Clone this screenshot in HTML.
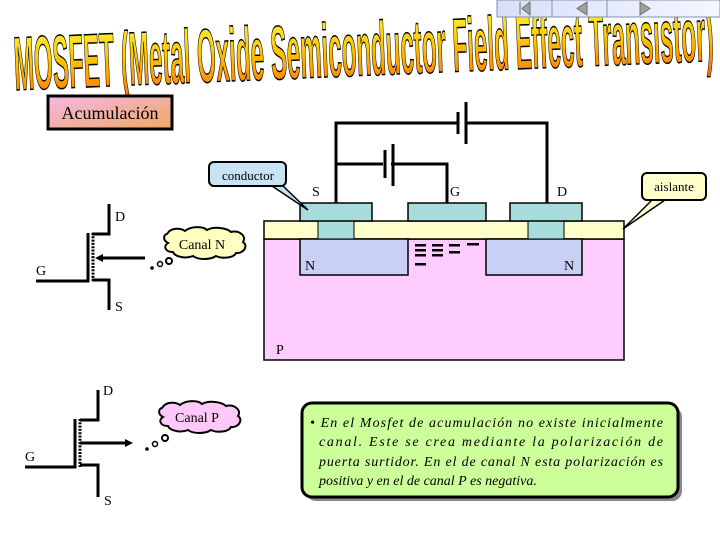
<!DOCTYPE html>
<html><head><meta charset="utf-8"><style>
html,body{margin:0;padding:0;background:#fff;}
svg{display:block;}
</style></head><body>
<svg width="720" height="540" viewBox="0 0 720 540" xmlns="http://www.w3.org/2000/svg" font-family="Liberation Serif, serif">
<defs>
<linearGradient id="tg" x1="0" y1="0" x2="0" y2="1"><stop offset="0" stop-color="#ffff40"/><stop offset="0.5" stop-color="#ffc000"/><stop offset="1" stop-color="#ff6a00"/></linearGradient>
<linearGradient id="ag" x1="0" y1="0" x2="1" y2="1"><stop offset="0" stop-color="#f4b8e8"/><stop offset="1" stop-color="#f0a860"/></linearGradient>
<linearGradient id="nb" x1="0" y1="0" x2="1" y2="0"><stop offset="0" stop-color="#d8e0f8"/><stop offset="1" stop-color="#f4f6ff"/></linearGradient>
</defs>
<!-- title -->
<g transform="rotate(-2.4 15 90)">
<text x="15" y="90" font-family="Liberation Sans Narrow, Liberation Sans, sans-serif" font-weight="bold" font-size="76" textLength="700" lengthAdjust="spacingAndGlyphs" fill="url(#tg)" stroke="#000" stroke-width="1.5">MOSFET (Metal Oxide Semiconductor Field Effect Transistor)</text>
</g>
<!-- nav -->
<rect x="497" y="0" width="223" height="17" fill="url(#nb)" stroke="#8090b0"/>
<line x1="552" y1="0" x2="552" y2="17" stroke="#8090b0"/><line x1="607" y1="0" x2="607" y2="17" stroke="#8090b0"/>
<path d="M520 2v13M530 2l-8 6.5 8 6.5z" fill="#a0a0a0" stroke="#707070"/>
<path d="M587 2l-10 6.5 10 6.5z" fill="#a0a0a0" stroke="#707070"/>
<path d="M640 2l10 6.5-10 6.5z" fill="#a0a0a0" stroke="#707070"/>
<!-- Acumulacion -->
<rect x="48" y="96" width="124" height="33" fill="url(#ag)" stroke="#000" stroke-width="3"/>
<text x="110" y="119" font-size="18" text-anchor="middle">Acumulación</text>
<!-- circuit wires -->
<g stroke="#000" stroke-width="3" fill="none">
<path d="M336 203V123H458M466 123H547V203"/>
<path d="M336 164H383M391 164H447V203"/>
</g>
<line x1="458" y1="112" x2="458" y2="134" stroke="#000" stroke-width="3"/>
<line x1="466" y1="102" x2="466" y2="144" stroke="#000" stroke-width="3"/>
<line x1="385" y1="150" x2="385" y2="178" stroke="#000" stroke-width="3"/>
<line x1="393" y1="144" x2="393" y2="186" stroke="#000" stroke-width="3"/>
<text x="312" y="196" font-size="14">S</text>
<text x="450" y="196" font-size="14">G</text>
<text x="557" y="196" font-size="14">D</text>
<!-- device -->
<rect x="264" y="239" width="360" height="121" fill="#ffccff" stroke="#000" stroke-width="1.5"/>
<rect x="264" y="221" width="360" height="18" fill="#ffffcc" stroke="#000" stroke-width="1.5"/>
<rect x="300" y="239" width="108" height="36" fill="#c8d0f4" stroke="#000" stroke-width="1.5"/>
<rect x="486" y="239" width="96" height="36" fill="#c8d0f4" stroke="#000" stroke-width="1.5"/>
<rect x="318" y="221" width="36" height="18" fill="#a8dcdc" stroke="#000" stroke-width="1"/>
<rect x="528" y="221" width="36" height="18" fill="#a8dcdc" stroke="#000" stroke-width="1"/>
<rect x="300" y="203" width="72" height="18" fill="#a8dcdc" stroke="#000" stroke-width="1.5"/>
<rect x="408" y="203" width="78" height="18" fill="#a8dcdc" stroke="#000" stroke-width="1.5"/>
<rect x="510" y="203" width="72" height="18" fill="#a8dcdc" stroke="#000" stroke-width="1.5"/>
<text x="305" y="270" font-size="14">N</text>
<text x="564" y="270" font-size="14">N</text>
<text x="276" y="354" font-size="14">P</text>
<g fill="#000">
<rect x="415" y="244" width="11" height="2.5"/><rect x="415" y="249" width="11" height="2.5"/><rect x="415" y="254" width="11" height="2.5"/><rect x="415" y="263" width="11" height="2.5"/>
<rect x="432" y="244" width="11" height="2.5"/><rect x="432" y="249" width="11" height="2.5"/><rect x="432" y="254" width="11" height="2.5"/>
<rect x="449" y="244" width="11" height="2.5"/><rect x="449" y="251" width="11" height="2.5"/>
<rect x="467" y="243" width="12" height="2.5"/>
</g>
<!-- conductor callout -->
<path d="M272 186L308 210L283 186Z" fill="#c8e4f4" stroke="#000" stroke-width="1.5"/>
<rect x="209" y="162" width="77" height="24" rx="5" fill="#c8e4f4" stroke="#000" stroke-width="2"/>
<text x="248" y="180" font-size="13" text-anchor="middle">conductor</text>
<!-- aislante callout -->
<path d="M652 200L623 229L665 200Z" fill="#ffffcc" stroke="#000" stroke-width="1.5"/>
<rect x="642" y="173" width="64" height="27" rx="5" fill="#ffffcc" stroke="#000" stroke-width="2"/>
<text x="674" y="191" font-size="13" text-anchor="middle">aislante</text>
<!-- N-channel symbol -->
<g stroke="#000" stroke-width="3" fill="none">
<path d="M109 204V234H92"/>
<path d="M88 233V281H36"/>
<path d="M92 280H109V310"/>
<path d="M145 258H100"/>
</g>
<line x1="93" y1="233" x2="93" y2="281" stroke="#000" stroke-width="3" stroke-dasharray="2 1.3"/>
<path d="M95 258l8-4v8z" fill="#000"/>
<text x="115" y="221" font-size="14">D</text>
<text x="36" y="275" font-size="14">G</text>
<text x="115" y="311" font-size="14">S</text>
<path d="M167 234c4-7 14-6 18-3 6-5 18-5 22-1 7-4 20-2 24 2 8-2 16 4 12 10 6 4 0 12-7 11-2 5-14 6-20 3-6 4-18 4-23 0-7 3-18 1-20-4-8 0-10-6-5-9-6-3-4-9-1-9z" fill="#ffffc0" stroke="#000" stroke-width="2"/>
<text x="202" y="249" font-size="14" text-anchor="middle">Canal N</text>
<circle cx="152" cy="268" r="1.8" fill="#000"/><circle cx="160" cy="264" r="2.5" fill="none" stroke="#000" stroke-width="1.5"/><circle cx="169" cy="261" r="3" fill="none" stroke="#000" stroke-width="2"/>
<!-- P-channel symbol -->
<g stroke="#000" stroke-width="3" fill="none">
<path d="M98 390V420H80"/>
<path d="M75 419V467H25"/>
<path d="M80 465H98V497"/>
<path d="M80 443H126"/>
</g>
<line x1="80" y1="419" x2="80" y2="467" stroke="#000" stroke-width="3" stroke-dasharray="2 1.3"/>
<path d="M133 443l-8-4v8z" fill="#000"/>
<text x="103" y="395" font-size="14">D</text>
<text x="25" y="461" font-size="14">G</text>
<text x="104" y="505" font-size="14">S</text>
<path d="M162 408c4-7 14-6 18-3 6-5 18-5 22-1 7-4 20-2 24 2 8-2 16 4 12 10 6 4 0 12-7 11-2 5-14 6-20 3-6 4-18 4-23 0-7 3-18 1-20-4-8 0-10-6-5-9-6-3-4-9-1-9z" fill="#ffc8f8" stroke="#000" stroke-width="2"/>
<text x="197" y="422" font-size="14" text-anchor="middle">Canal P</text>
<circle cx="147" cy="449" r="1.8" fill="#000"/><circle cx="155" cy="444" r="2.5" fill="none" stroke="#000" stroke-width="1.5"/><circle cx="165" cy="438" r="3" fill="none" stroke="#000" stroke-width="2"/>
<!-- text box -->
<rect x="306" y="407" width="376" height="94" rx="10" fill="#888"/>
<rect x="302" y="403" width="376" height="94" rx="10" fill="#ccff99" stroke="#000" stroke-width="3"/>
<g font-size="14" font-style="italic">
<text x="310" y="427" textLength="353" lengthAdjust="spacing">• En el Mosfet de acumulación no existe inicialmente</text>
<text x="319" y="446" textLength="344" lengthAdjust="spacing">canal. Este se crea mediante la polarización de</text>
<text x="319" y="466" textLength="344" lengthAdjust="spacing">puerta surtidor. En el de canal N esta polarización es</text>
<text x="319" y="485">positiva y en el de canal P es negativa.</text>
</g>
</svg>
</body></html>
